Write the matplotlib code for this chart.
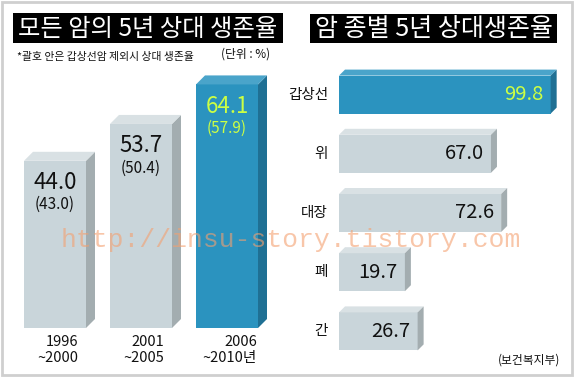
import matplotlib
matplotlib.use('Agg')
import matplotlib.pyplot as plt
from matplotlib.patches import Polygon, Rectangle

W, H = 574, 377
plt.rcParams['font.family'] = ['Noto Sans CJK KR', 'DejaVu Sans']

# ---- data ----
periods = ['1996\n~2000', '2001\n~2005', '2006\n~2010년']
all_rates = [44.0, 53.7, 64.1]
excl_thyroid = [43.0, 50.4, 57.9]
left_highlight = [False, False, True]

cancers = ['갑상선', '위', '대장', '폐', '간']
cancer_rates = [99.8, 67.0, 72.6, 19.7, 26.7]
right_highlight = [True, False, False, False, False]

title_left = '모든 암의 5년 상대 생존율'
title_right = '암 종별 5년 상대생존율'
note = '*괄호 안은 갑상선암 제외시 상대 생존율'
unit = '(단위 : %)'
source = '(보건복지부)'
watermark = 'http://insu-story.tistory.com'

# ---- style ----
GREY = dict(face='#c9d5da', side='#a3adb0', top='#d9e1e4', text='#111111', sub='#111111')
BLUE = dict(face='#2b93bf', side='#1f7094', top='#4aa4ca', text='#ccff44', sub='#ccff44')

fig = plt.figure(figsize=(W / 100, H / 100), dpi=100)
fig.patch.set_facecolor('white')


def ax_px(x0, y0, x1, y1, **kw):
    return fig.add_axes([x0 / W, 1 - y1 / H, (x1 - x0) / W, (y1 - y0) / H], **kw)


# background/overlay axes in pixel coords
bg = ax_px(0, 0, W, H, zorder=0)
bg.set_xlim(0, W)
bg.set_ylim(H, 0)
bg.axis('off')
bg.add_patch(Rectangle((1.5, 1.5), W - 3.5, H - 4, fill=False, ec='#cfcfcf', lw=2))
bg.add_patch(Rectangle((13, 13), 270, 30, fc='black', ec='none'))
bg.add_patch(Rectangle((310, 14), 247, 29, fc='black', ec='none'))
bg.text(148, 28.5, title_left, color='white', fontsize=17.5, ha='center', va='center')
bg.text(433.5, 28.5, title_right, color='white', fontsize=18, ha='center', va='center')
bg.text(17, 57, note, fontsize=7.8, ha='left', va='center', color='#111111')
bg.text(246, 54, unit, fontsize=8.5, ha='center', va='center', color='#111111')
bg.text(560, 360, source, fontsize=8.5, ha='right', va='center', color='#111111')

# ---- left chart ----
axL = ax_px(12, 60, 270, 328, zorder=1)
axL.patch.set_alpha(0)
axL.axis('off')
pxL_x = 258 / 3
pxL_y = 3.8
axL.set_xlim(-0.5, 2.5)
axL.set_ylim(0, 268 / pxL_y)
wL = 62 / pxL_x
dxL, dyL = 9 / pxL_x, 9 / pxL_y
xs = list(range(len(all_rates)))
cols = [BLUE if h else GREY for h in left_highlight]
axL.bar(xs, all_rates, width=wL, color=[c['face'] for c in cols], edgecolor='none', zorder=2)
for x, v, sub, c, lab in zip(xs, all_rates, excl_thyroid, cols, periods):
    r = x + wL / 2
    l = x - wL / 2
    axL.add_patch(Polygon([(r, 0), (r + dxL, dyL), (r + dxL, v + dyL), (r, v)],
                          closed=True, fc=c['side'], ec='none', zorder=2))
    axL.add_patch(Polygon([(l, v), (l + dxL, v + dyL), (r + dxL, v + dyL), (r, v)],
                          closed=True, fc=c['top'], ec='none', zorder=2))
    axL.annotate(f'{v:.1f}', (x, v), xytext=(0, -22 * 0.72), textcoords='offset points',
                 ha='center', va='center', fontsize=16, color=c['text'], zorder=3)
    axL.annotate(f'({sub:.1f})', (x, v), xytext=(0, -44 * 0.72), textcoords='offset points',
                 ha='center', va='center', fontsize=11, color=c['sub'], zorder=3)
    axL.annotate(lab, (x, 0), xytext=(2, -22 * 0.72), textcoords='offset points',
                 ha='center', va='center', multialignment='right', fontsize=10.5,
                 linespacing=1.2, color='#111111', annotation_clip=False)

# ---- right chart ----
axR = ax_px(339, 65, 565, 361, zorder=1)
axR.patch.set_alpha(0)
axR.axis('off')
BASE = -16.5
pxR_x = 1.82
pxR_y = 296 / 5
axR.set_xlim(BASE, BASE + 226 / pxR_x)
axR.set_ylim(len(cancers) - 0.5, -0.5)
hR = 38 / pxR_y
dxR, dyR = 6 / pxR_x, 6 / pxR_y
ys = list(range(len(cancers)))
colsR = [BLUE if h else GREY for h in right_highlight]
axR.barh(ys, [v - BASE for v in cancer_rates], left=BASE, height=hR,
         color=[c['face'] for c in colsR], edgecolor='none', zorder=2)
for y, v, c, name in zip(ys, cancer_rates, colsR, cancers):
    t = y - hR / 2
    b = y + hR / 2
    axR.add_patch(Polygon([(BASE, t), (BASE + dxR, t - dyR), (v + dxR, t - dyR), (v, t)],
                          closed=True, fc=c['top'], ec='none', zorder=2, clip_on=False))
    axR.add_patch(Polygon([(v, t), (v + dxR, t - dyR), (v + dxR, b - dyR), (v, b)],
                          closed=True, fc=c['side'], ec='none', zorder=2, clip_on=False))
    axR.annotate(f'{v:.1f}', (v, y), xytext=(-7 * 0.72, 0), textcoords='offset points',
                 ha='right', va='center', fontsize=14.5, color=c['text'], zorder=3)
    axR.annotate(name, (BASE, y), xytext=(-11 * 0.72, 0), textcoords='offset points',
                 ha='right', va='center', fontsize=10.5, color='#111111', annotation_clip=False)

# ---- watermark ----
ov = ax_px(0, 0, W, H, zorder=5)
ov.set_xlim(0, W)
ov.set_ylim(H, 0)
ov.axis('off')
ov.patch.set_alpha(0)
ov.text(291, 240, watermark, fontsize=19, family='Liberation Mono', color='#f4a070', alpha=0.6,
        ha='center', va='center')

fig.savefig('out.png', dpi=100, facecolor='white')
